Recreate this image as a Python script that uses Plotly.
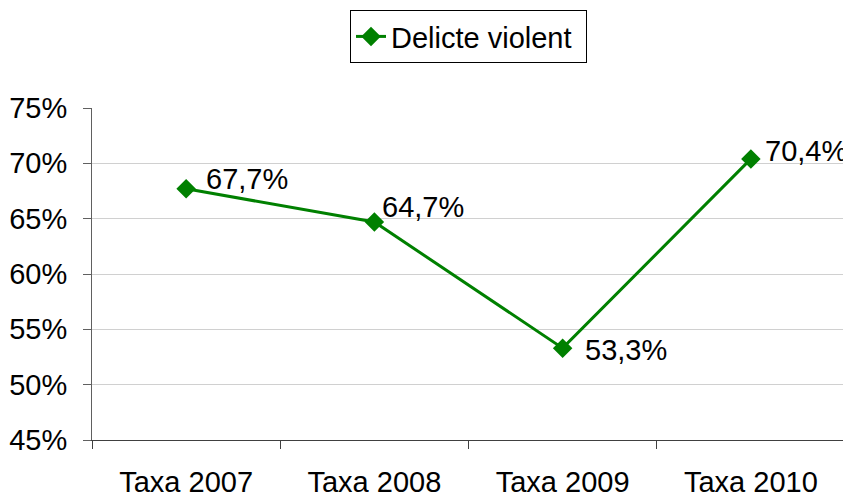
import plotly.graph_objects as go

categories = ["Taxa 2007", "Taxa 2008", "Taxa 2009", "Taxa 2010"]
values = [67.7, 64.7, 53.3, 70.4]
labels = ["67,7%", "64,7%", "53,3%", "70,4%"]
yticks = [45, 50, 55, 60, 65, 70, 75]
yticklabels = ["45%", "50%", "55%", "60%", "65%", "70%", "75%"]
label_xshift = [18, 6, 20, 12]
label_yshift = [10, 15, -2, 8]

FONT = "Liberation Sans, Arial"

fig = go.Figure()
fig.add_trace(go.Scatter(
    x=categories, y=values, mode="lines+markers", name="Delicte violent",
    line=dict(color="#008000", width=3),
    marker=dict(symbol="diamond", size=15, color="#008000"),
))
for c, v, t, xs, ys in zip(categories, values, labels, label_xshift, label_yshift):
    fig.add_annotation(x=c, y=v, text=t, showarrow=False, xanchor="left",
                       yanchor="middle", xshift=xs, yshift=ys,
                       font=dict(size=29, color="black", family=FONT))

fig.update_layout(
    width=843, height=490,
    margin=dict(l=84, r=6, t=100, b=58, autoexpand=False),
    paper_bgcolor="white", plot_bgcolor="white",
    font=dict(family=FONT, size=29, color="black"),
    showlegend=True,
    legend=dict(orientation="h", x=0.5, xanchor="center", y=1.295, yanchor="top",
                bordercolor="black", borderwidth=1, entrywidth=190,
                font=dict(size=29)),
)
fig.update_xaxes(
    range=[-0.5, 3.5], automargin=False,
    showline=True, linecolor="#404040", linewidth=1,
    ticks="outside", ticklen=8, tickcolor="#404040", tickson="boundaries",
    showgrid=False, ticklabelstandoff=16,
)
fig.update_yaxes(
    range=[45, 75], tickvals=yticks, ticktext=yticklabels, automargin=False,
    showline=True, linecolor="#606060", linewidth=1,
    ticks="outside", ticklen=8, tickcolor="#606060",
    showgrid=True, gridcolor="#d0d0d0", gridwidth=1, zeroline=False,
    ticklabelstandoff=10,
)
fig.write_html("out.html")
